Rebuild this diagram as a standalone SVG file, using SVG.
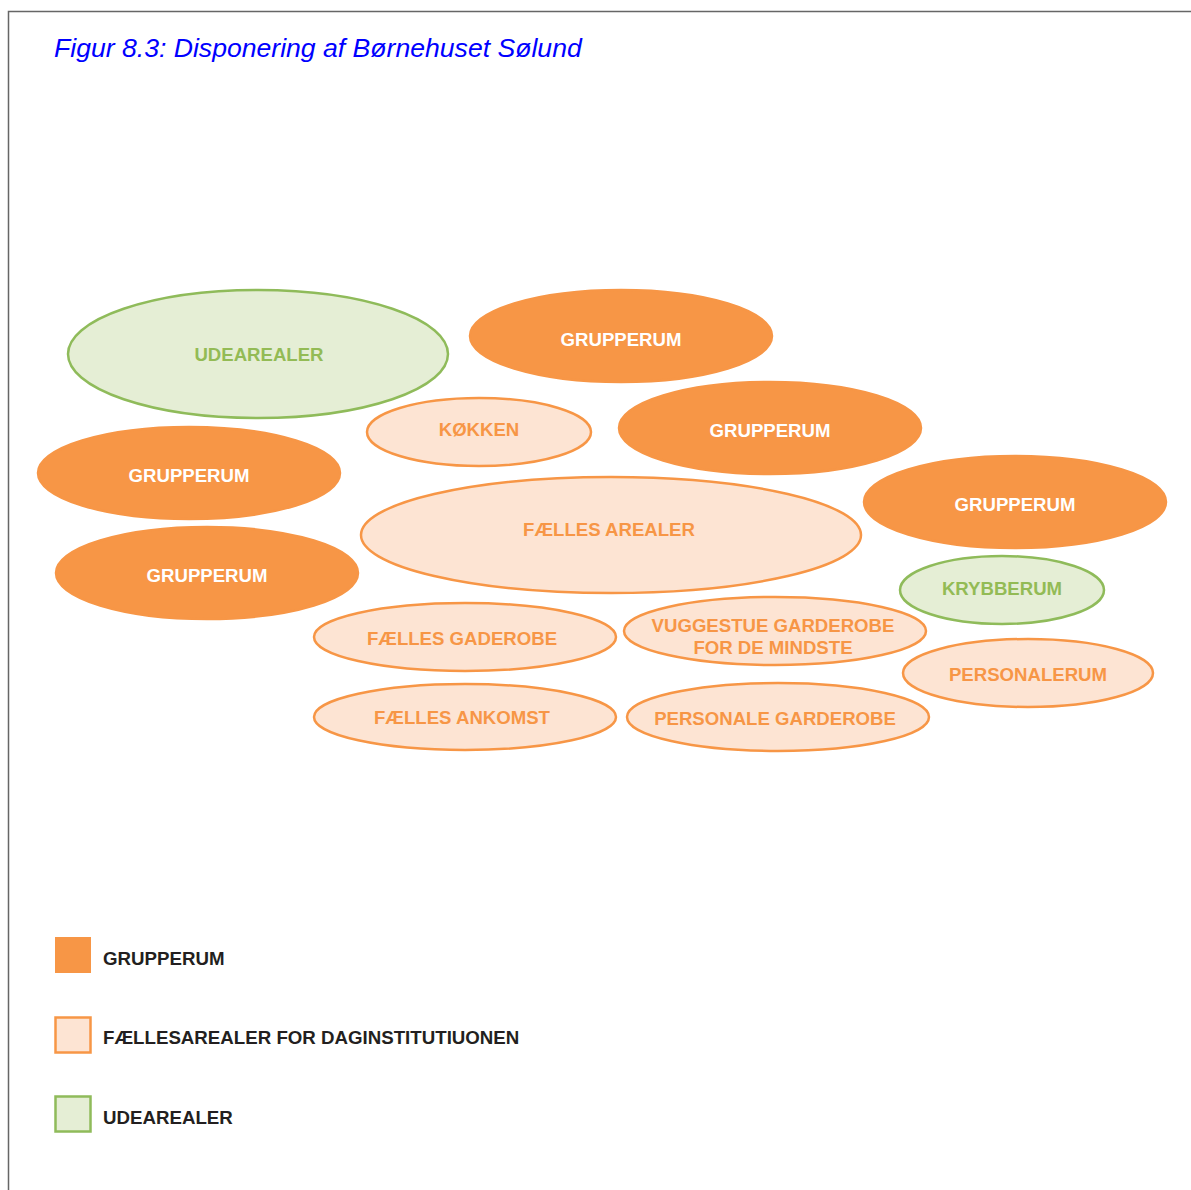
<svg xmlns="http://www.w3.org/2000/svg" width="1191" height="1190" viewBox="0 0 1191 1190">
<style>
.g{fill:#f79646;stroke:#f79646;stroke-width:2.5}
.f{fill:#fde4d3;stroke:#f79646;stroke-width:2.5}
.u{fill:#e5eed5;stroke:#8fbb5a;stroke-width:2.5}
text{font-family:"Liberation Sans",Arial,sans-serif;font-weight:bold;font-size:18.6px;text-anchor:middle}
.tg{fill:#ffffff}
.tf{fill:#f79646}
.tu{fill:#93bb55}
.lg{fill:#231f20;text-anchor:start;font-size:18.7px}
.title{font-weight:normal;font-style:italic;font-size:26.6px;fill:#0000ff;text-anchor:start}
</style>
<rect width="1191" height="1190" fill="#ffffff"/>
<path d="M8.5 1190 V11.5 H1191" fill="none" stroke="#666666" stroke-width="1.5"/>
<text class="title" x="54" y="57">Figur 8.3: Disponering af Børnehuset Sølund</text>
<g id="udearealer"><ellipse class="u" cx="258" cy="354" rx="190" ry="64"/><text class="tu" x="259" y="361">UDEAREALER</text></g>
<g id="grupperum1"><ellipse class="g" cx="621" cy="336" rx="151" ry="46"/><text class="tg" x="621" y="346">GRUPPERUM</text></g>
<g id="koekken"><ellipse class="f" cx="479" cy="432" rx="112" ry="34"/><text class="tf" x="479" y="436">KØKKEN</text></g>
<g id="grupperum2"><ellipse class="g" cx="770" cy="428" rx="151" ry="46"/><text class="tg" x="770" y="437">GRUPPERUM</text></g>
<g id="grupperum3"><ellipse class="g" cx="189" cy="473" rx="151" ry="46"/><text class="tg" x="189" y="482">GRUPPERUM</text></g>
<g id="faelles-arealer"><ellipse class="f" cx="611" cy="535" rx="250" ry="58"/><text class="tf" x="609" y="536">FÆLLES AREALER</text></g>
<g id="grupperum4"><ellipse class="g" cx="1015" cy="502" rx="151" ry="46"/><text class="tg" x="1015" y="511">GRUPPERUM</text></g>
<g id="grupperum5"><ellipse class="g" cx="207" cy="573" rx="151" ry="46"/><text class="tg" x="207" y="582">GRUPPERUM</text></g>
<g id="krybberum"><ellipse class="u" cx="1002" cy="590" rx="102" ry="34"/><text class="tu" x="1002" y="595">KRYBBERUM</text></g>
<g id="faelles-gaderobe"><ellipse class="f" cx="465" cy="637" rx="151" ry="34"/><text class="tf" x="462" y="645">FÆLLES GADEROBE</text></g>
<g id="vuggestue"><ellipse class="f" cx="775" cy="631" rx="151" ry="34"/><text class="tf" x="773" y="632">VUGGESTUE GARDEROBE</text><text class="tf" x="773" y="654">FOR DE MINDSTE</text></g>
<g id="personalerum"><ellipse class="f" cx="1028" cy="673" rx="125" ry="34"/><text class="tf" x="1028" y="681">PERSONALERUM</text></g>
<g id="faelles-ankomst"><ellipse class="f" cx="465" cy="717" rx="151" ry="33"/><text class="tf" x="462" y="724">FÆLLES ANKOMST</text></g>
<g id="personale-garderobe"><ellipse class="f" cx="778" cy="717" rx="151" ry="34"/><text class="tf" x="775" y="725">PERSONALE GARDEROBE</text></g>
<g id="legend">
<rect x="55" y="937" width="36" height="36" fill="#f79646"/>
<text class="lg" x="103" y="965">GRUPPERUM</text>
<rect x="55.5" y="1017.5" width="35" height="35" class="f" stroke-width="2"/>
<text class="lg" x="103" y="1044">FÆLLESAREALER FOR DAGINSTITUTIUONEN</text>
<rect x="55.5" y="1096.5" width="35" height="35" class="u" stroke-width="2"/>
<text class="lg" x="103" y="1124">UDEAREALER</text>
</g>
<g id="connectors"></g>
</svg>
